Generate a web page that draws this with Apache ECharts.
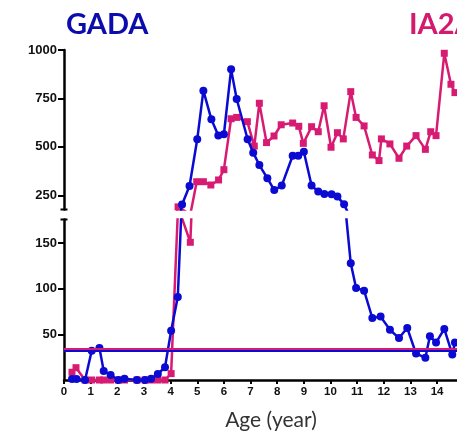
<!DOCTYPE html>
<html>
<head>
<meta charset="utf-8">
<script src="https://cdn.jsdelivr.net/npm/echarts@6/dist/echarts.min.js"></script>
<style>
html,body{margin:0;padding:0;background:#fff;}
#c{width:457px;height:433px;}
</style>
</head>
<body>
<div id="c"></div>
<script>
// ---- data ----
const gadaAge = [0.30,0.47,0.79,1.04,1.33,1.49,1.75,2.04,2.27,2.74,3.04,3.27,3.52,3.79,4.02,4.27,4.43,4.71,5.00,5.23,5.53,5.79,6.00,6.27,6.48,6.89,7.10,7.33,7.63,7.89,8.17,8.58,8.79,9.00,9.29,9.54,9.77,10.04,10.26,10.51,10.76,10.96,11.26,11.57,11.88,12.23,12.57,12.88,13.21,13.56,13.73,13.96,14.27,14.57,14.67];
const gadaVal = [1,1,0,32,35,10,5.5,0,1.5,0,0,1.5,6.6,14,54,91,202,298,539,790,642,558,565,900,747,539,470,406,338,277,300,454,454,475,300,269,257,255,243,203,128,101,98,68,69.5,55,46,57,29,24.5,48,41,56,28,41];
const ia2aAge = [0.30,0.45,0.79,1.04,1.33,1.49,1.75,2.04,2.27,2.74,3.04,3.27,3.52,3.79,4.02,4.28,4.74,4.98,5.23,5.51,5.80,6.00,6.27,6.48,6.88,7.14,7.33,7.60,7.88,8.15,8.58,8.81,8.98,9.29,9.54,9.76,10.02,10.26,10.48,10.76,10.96,11.26,11.57,11.82,11.91,12.23,12.57,12.86,13.21,13.56,13.76,13.96,14.27,14.52,14.67];
const ia2aVal = [8.5,13.5,0,0,0,0,0,0,0,0,0,0,0,0,7,190,151,320,320,303,329,382,645,652,630,504,725,522,556,614,623,606,518,604,578,712,498,573,541,785,652,608,458,429,541,515,441,504,558,487,578,558,983,823,780];
const gadaCutoff = 32.5;
const ia2aCutoff = 34.5;
const xTicks = [0,1,2,3,4,5,6,7,8,9,10,11,12,13,14,15];
const yTopTicks = [250,500,750,1000];
const yBottomTicks = [50,100,150];
const titles = ['GADA','IA2A'];
const xTitle = 'Age (year)';

const BLUE = '#0a0ad2';
const PINK = '#d81b72';

const pairs = (a, v) => a.map((x, i) => [x, v[i]]);
const gadaData = pairs(gadaAge, gadaVal);
const ia2aData = pairs(ia2aAge, ia2aVal);

const chart = echarts.init(document.getElementById('c'), null, {renderer: 'canvas'});

const yLabel = {fontFamily: 'Liberation Sans, Arial, sans-serif', fontWeight: 'bold', fontSize: 13, color: '#111', margin: 7, formatter: v => String(v)};
const axisLineBase = {show: true, lineStyle: {color: '#000', width: 2.5}};

const gridW = 16 * 26.65;

function lineSeries(name, data, xi, yi, color, symbol, size, cutoff) {
  const s = {
    name, type: 'line', xAxisIndex: xi, yAxisIndex: yi, data,
    symbol, symbolSize: size, clip: true,
    lineStyle: {color, width: 2.5},
    itemStyle: {color},
    emphasis: {disabled: true},
    animation: false, z: symbol === 'circle' ? 4 : 3
  };
  if (cutoff != null) {
    s.markLine = {
      silent: true, symbol: 'none', animation: false,
      label: {show: false},
      lineStyle: {color, width: 2, type: 'solid'},
      data: [{yAxis: cutoff}]
    };
  }
  return s;
}

chart.setOption({
  animation: false,
  grid: [
    {left: 64, top: 50, height: 159.5, width: gridW, outerBoundsMode: 'none', containLabel: false},
    {left: 64, top: 219.5, height: 160.5, width: gridW, outerBoundsMode: 'none', containLabel: false}
  ],
  xAxis: [
    {gridIndex: 0, type: 'value', min: 0, max: 16, show: false},
    {gridIndex: 1, type: 'value', min: 0, max: 16, interval: 1,
     axisLine: axisLineBase,
     axisTick: {show: true, length: 4, lineStyle: {color: '#000', width: 2}, customValues: xTicks},
     axisLabel: {fontFamily: 'Liberation Sans, Arial, sans-serif', fontWeight: 'bold', fontSize: 11.5, color: '#111', margin: 6, customValues: xTicks},
     splitLine: {show: false}}
  ],
  yAxis: [
    {gridIndex: 0, type: 'value', min: 176.5, max: 1000,
     axisLine: Object.assign({}, axisLineBase, {symbol: ['rect', 'none'], symbolSize: [7, 2]}),
     axisTick: {show: true, length: 6, lineStyle: {color: '#000', width: 2}, customValues: yTopTicks},
     axisLabel: Object.assign({customValues: yTopTicks}, yLabel),
     splitLine: {show: false}},
    {gridIndex: 1, type: 'value', min: 0, max: 176,
     axisLine: Object.assign({}, axisLineBase, {symbol: ['none', 'rect'], symbolSize: [7, 2]}),
     axisTick: {show: true, length: 6, lineStyle: {color: '#000', width: 2}, customValues: yBottomTicks},
     axisLabel: Object.assign({customValues: yBottomTicks}, yLabel),
     splitLine: {show: false}}
  ],
  series: [
    lineSeries('IA2A', ia2aData, 0, 0, PINK, 'rect', 7),
    lineSeries('IA2A', ia2aData, 1, 1, PINK, 'rect', 7, ia2aCutoff),
    lineSeries('GADA', gadaData, 0, 0, BLUE, 'circle', 8),
    lineSeries('GADA', gadaData, 1, 1, BLUE, 'circle', 8, gadaCutoff)
  ],
  graphic: [
    {type: 'text', x: 66, y: 24.5, style: {text: titles[0], font: 'bold 29px Lato, sans-serif', fill: '#0c0cae', align: 'left', verticalAlign: 'middle'}},
    {type: 'text', x: 409, y: 24.5, style: {text: titles[1], font: 'bold 29px Lato, sans-serif', fill: '#d41a6e', align: 'left', verticalAlign: 'middle'}},
    {type: 'text', x: 271, y: 420, style: {text: xTitle, font: '21px Lato, sans-serif', fill: '#333', align: 'center', verticalAlign: 'middle'}}
  ]
});
</script>
</body>
</html>
